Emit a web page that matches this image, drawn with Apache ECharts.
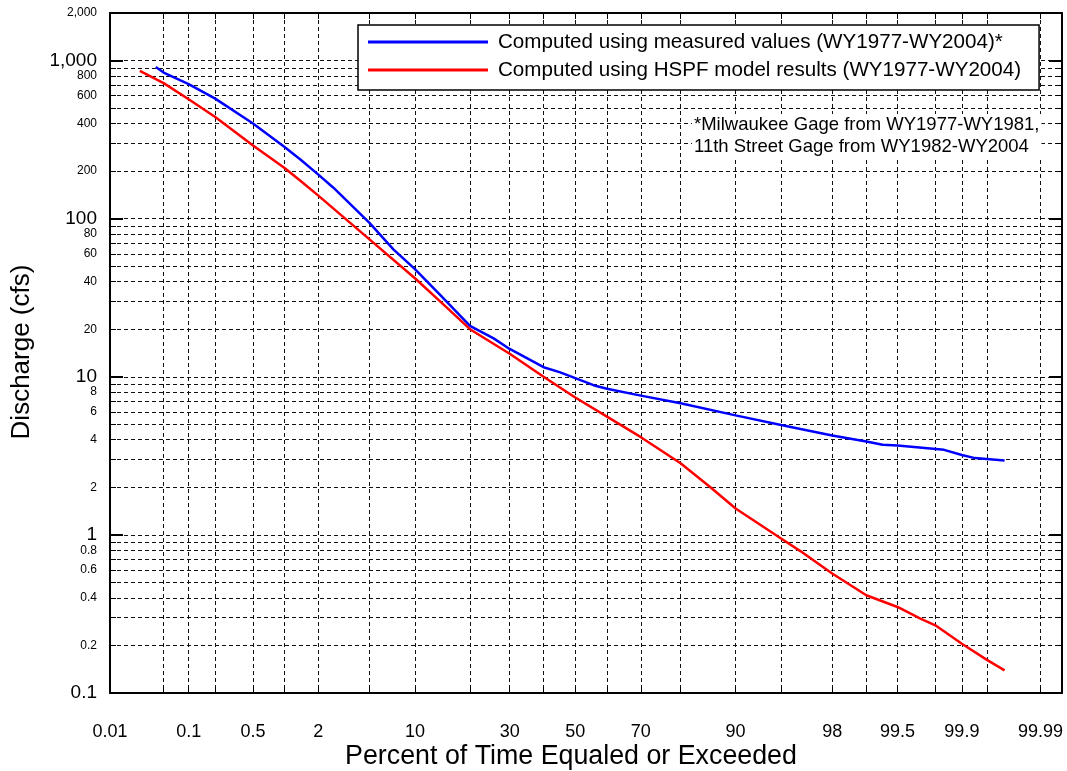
<!DOCTYPE html>
<html>
<head>
    <meta charset="utf-8">
    <title>Flow duration</title>
    <script type="text/javascript" src="https://cdn.jsdelivr.net/npm/echarts@6/dist/echarts.min.js"></script>
    <style>
        body { margin: 0; background: #fff; }
    </style>
</head>
<body>
    <div id="main" style="width:1067px;height:771px;"></div>
    <script type="text/javascript">
    // percent of time equaled or exceeded / discharge (cfs)
    var measuredPct = [0.04, 0.05, 0.1, 0.2, 0.5, 1, 1.4, 2, 2.66, 5, 7.3, 10, 14, 20, 25.7, 30, 40, 45, 50, 55.8, 60, 70, 80, 90, 95, 98, 99, 99.3, 99.5, 99.84, 99.9, 99.93, 99.97];
    var measuredQ   = [910, 840, 710, 575, 400, 285, 237, 190, 157, 94, 64, 48, 33, 21, 17.5, 15, 11.5, 10.7, 9.8, 8.85, 8.4, 7.6, 6.8, 5.7, 4.95, 4.25, 3.9, 3.72, 3.68, 3.45, 3.2, 3.06, 2.95];
    var hspfPct = [0.025, 0.05, 0.1, 0.2, 0.5, 1, 1.4, 2, 5, 10, 14, 20, 30, 40, 50, 60, 70, 80, 86, 90, 95, 96.4, 98, 99, 99.5, 99.71, 99.8, 99.9, 99.95, 99.97];
    var hspfQ   = [860, 720, 570, 440, 290, 210, 174, 140, 74, 42, 30, 20, 14, 10, 7.4, 5.6, 4.15, 2.84, 2.0, 1.47, 0.95, 0.79, 0.57, 0.415, 0.35, 0.295, 0.268, 0.205, 0.162, 0.139];

    var xGridPct  = [0.01, 0.05, 0.1, 0.2, 0.5, 1, 2, 5, 10, 20, 30, 40, 50, 60, 70, 80, 90, 95, 98, 99, 99.5, 99.8, 99.9, 99.95, 99.99];
    var xLabelPct = [0.01, 0.1, 0.5, 2, 10, 30, 50, 70, 90, 98, 99.5, 99.9, 99.99];
    var yGridVals = [0.1, 0.2, 0.3, 0.4, 0.5, 0.6, 0.7, 0.8, 0.9, 1, 2, 3, 4, 5, 6, 7, 8, 9,
                     10, 20, 30, 40, 50, 60, 70, 80, 90, 100, 200, 300, 400, 500, 600, 700, 800, 900, 1000, 2000];
    var yLabelVals = [0.1, 0.2, 0.4, 0.6, 0.8, 1, 2, 4, 6, 8, 10, 20, 40, 60, 80, 100, 200, 400, 600, 800, 1000, 2000];
    var yMajorVals = [0.1, 1, 10, 100, 1000];

    var names = ['Computed using measured values (WY1977-WY2004)*',
                 'Computed using HSPF model results (WY1977-WY2004)'];

    // inverse normal cdf (Acklam), used for the probability axis
    function qnorm(p) {
        var a = [-3.969683028665376e+01, 2.209460984245205e+02, -2.759285104469687e+02, 1.383577518672690e+02, -3.066479806614716e+01, 2.506628277459239e+00];
        var b = [-5.447609879822406e+01, 1.615858368580409e+02, -1.556989798598866e+02, 6.680131188771972e+01, -1.328068155288572e+01];
        var c = [-7.784894002430293e-03, -3.223964580411365e-01, -2.400758277161838e+00, -2.549732539343734e+00, 4.374664141464968e+00, 2.938163982698783e+00];
        var d = [7.784695709041462e-03, 3.224671290700398e-01, 2.445134137142996e+00, 3.754408661907416e+00];
        var pl = 0.02425, q, r;
        if (p < pl) {
            q = Math.sqrt(-2 * Math.log(p));
            return (((((c[0]*q+c[1])*q+c[2])*q+c[3])*q+c[4])*q+c[5]) / ((((d[0]*q+d[1])*q+d[2])*q+d[3])*q+1);
        }
        if (p > 1 - pl) {
            q = Math.sqrt(-2 * Math.log(1 - p));
            return -(((((c[0]*q+c[1])*q+c[2])*q+c[3])*q+c[4])*q+c[5]) / ((((d[0]*q+d[1])*q+d[2])*q+d[3])*q+1);
        }
        q = p - 0.5; r = q * q;
        return (((((a[0]*r+a[1])*r+a[2])*r+a[3])*r+a[4])*r+a[5])*q / (((((b[0]*r+b[1])*r+b[2])*r+b[3])*r+b[4])*r+1);
    }
    function z(pct) { return qnorm(pct / 100); }

    var xMin = z(0.01), xMax = z(99.995);
    var xGridZ = xGridPct.map(z);
    var xLabelZ = xLabelPct.map(z);

    function toPairs(pct, q) {
        var out = [];
        for (var i = 0; i < pct.length; i++) out.push([z(pct[i]), q[i]]);
        return out;
    }

    var font = '"Liberation Sans", Arial, sans-serif';
    var gridLine = { show: true, lineStyle: { color: '#111', width: 1, type: [4, 3] } };
    var border = { show: true, onZero: false, lineStyle: { color: '#000', width: 2 } };
    var noLine = { show: false, onZero: false };

    var myChart = echarts.init(document.getElementById('main'));
    var option = {
        animation: false,
        backgroundColor: '#fff',
        grid: { left: 110, right: 5, top: 13, bottom: 78, containLabel: false },
        legend: {
            left: 358, top: 25,
            orient: 'vertical',
            icon: 'rect',
            itemWidth: 120, itemHeight: 3,
            itemGap: 6,
            padding: [6, 18, 9, 10],
            borderColor: '#000', borderWidth: 1.5,
            backgroundColor: '#fff',
            textStyle: { fontFamily: font, fontSize: 20.6, color: '#000', lineHeight: 22, padding: [0, 0, 0, 5] },
            data: names
        },
        xAxis: [{
            type: 'value', position: 'bottom', min: xMin, max: xMax,
            axisLine: border,
            axisTick: { show: true, inside: true, length: 6, customValues: xGridZ, lineStyle: { color: '#000', width: 1 } },
            splitLine: gridLine,
            axisLabel: {
                show: true, margin: 30, fontFamily: font, fontSize: 18, color: '#000',
                customValues: xLabelZ,
                formatter: function (val) {
                    for (var i = 0; i < xLabelZ.length; i++) {
                        if (Math.abs(xLabelZ[i] - val) < 1e-4) return String(xLabelPct[i]);
                    }
                    return '';
                }
            }
        }, {
            type: 'value', position: 'top', min: xMin, max: xMax,
            axisLine: border,
            axisTick: { show: true, inside: true, length: 6, customValues: xGridZ, lineStyle: { color: '#000', width: 1 } },
            splitLine: { show: false },
            axisLabel: { show: false }
        }],
        yAxis: [{
            type: 'log', logBase: 10, position: 'left', min: 0.1, max: 2000,
            axisLine: border,
            axisTick: { show: true, inside: true, length: 6, customValues: yGridVals, lineStyle: { color: '#000', width: 1 } },
            splitLine: gridLine,
            axisLabel: {
                show: true, margin: 13, fontFamily: font, color: '#000',
                customValues: yLabelVals,
                formatter: function (val) {
                    var v = Number(val.toPrecision(6));
                    var txt = v >= 1000 ? Math.floor(v / 1000) + ',000' : String(v);
                    var big = false;
                    for (var i = 0; i < yMajorVals.length; i++) {
                        if (Math.abs(yMajorVals[i] - v) < 1e-9) big = true;
                    }
                    return big ? '{big|' + txt + '}' : '{small|' + txt + '}';
                },
                rich: {
                    big: { fontFamily: font, fontSize: 19, color: '#000' },
                    small: { fontFamily: font, fontSize: 12, color: '#000' }
                }
            }
        }, {
            type: 'log', logBase: 10, position: 'left', min: 0.1, max: 2000,
            axisLine: noLine,
            axisTick: { show: true, inside: true, length: 13, customValues: yMajorVals, lineStyle: { color: '#000', width: 2 } },
            splitLine: { show: false },
            axisLabel: { show: false }
        }, {
            type: 'log', logBase: 10, position: 'right', min: 0.1, max: 2000,
            axisLine: border,
            axisTick: { show: true, inside: true, length: 6, customValues: yGridVals, lineStyle: { color: '#000', width: 1 } },
            splitLine: { show: false },
            axisLabel: { show: false }
        }, {
            type: 'log', logBase: 10, position: 'right', min: 0.1, max: 2000,
            axisLine: noLine,
            axisTick: { show: true, inside: true, length: 13, customValues: yMajorVals, lineStyle: { color: '#000', width: 2 } },
            splitLine: { show: false },
            axisLabel: { show: false }
        }],
        series: [{
            name: names[0],
            type: 'line',
            xAxisIndex: 0, yAxisIndex: 0,
            showSymbol: false, symbol: 'none',
            color: '#0000ff',
            lineStyle: { color: '#0000ff', width: 2.5 },
            data: toPairs(measuredPct, measuredQ)
        }, {
            name: names[1],
            type: 'line',
            xAxisIndex: 0, yAxisIndex: 0,
            showSymbol: false, symbol: 'none',
            color: '#ff0000',
            lineStyle: { color: '#ff0000', width: 2.5 },
            data: toPairs(hspfPct, hspfQ)
        }],
        graphic: [{
            type: 'text', x: 22, y: 352, rotation: Math.PI / 2, z: 10,
            style: { text: 'Discharge (cfs)', fontFamily: font, fontSize: 26, fill: '#000', align: 'center', verticalAlign: 'middle' }
        }, {
            type: 'text', x: 571, y: 757, z: 10,
            style: { text: 'Percent of Time Equaled or Exceeded', fontFamily: font, fontSize: 26.8, fill: '#000', align: 'center', verticalAlign: 'middle' }
        }, {
            type: 'text', x: 692, y: 114, z: 10,
            style: {
                text: '*Milwaukee Gage from WY1977-WY1981,\n11th Street Gage from WY1982-WY2004',
                fontFamily: font, fontSize: 18.5, lineHeight: 22, fill: '#000',
                backgroundColor: '#fff', padding: [0, 2, 0, 2]
            }
        }]
    };
    myChart.setOption(option);
    </script>
</body>
</html>
